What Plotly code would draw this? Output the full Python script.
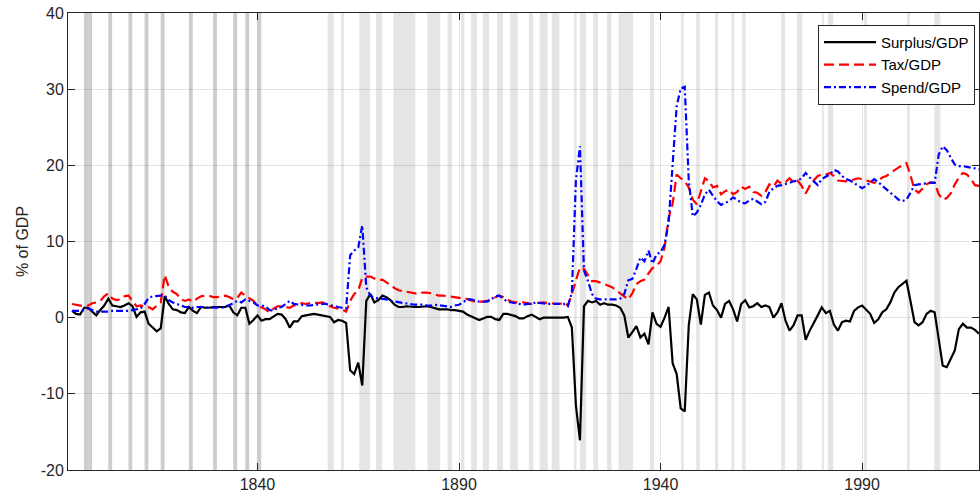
import plotly.graph_objects as go

years = list(range(1794, 2020))

surplus = [
    0.9, 0.5, 0.4, 1.3, 1.3, 0.8, 0.3, 1.0, 1.6, 2.5,
    1.6, 1.5, 1.4, 1.6, 1.9, 1.5, 0.1, 0.7, 0.8, -0.8,
    -1.3, -1.8, -1.4, 2.8, 1.8, 1.1, 1.0, 0.7, 0.6, 1.4,
    0.9, 0.6, 1.4, 1.3, 1.3, 1.4, 1.4, 1.4, 1.4, 1.6,
    0.7, 0.3, 1.3, 1.3, -0.8, -0.3, 0.3, -0.4, -0.2, -0.2,
    0.2, 0.5, 0.4, -0.2, -1.3, -0.5, -0.5, 0.2, 0.3, 0.4,
    0.5, 0.4, 0.3, 0.2, 0.1, -0.6, -0.3, -0.4, -0.7, -6.9,
    -7.4, -5.9, -8.9, 2.2, 3.1, 2.0, 2.3, 2.9, 2.7, 2.3,
    1.7, 1.4, 1.4, 1.5, 1.4, 1.4, 1.4, 1.5, 1.5, 1.4,
    1.3, 1.1, 1.1, 1.1, 1.0, 1.0, 0.9, 0.8, 0.4, 0.2,
    -0.1, -0.3, -0.1, 0.1, 0.1, -0.2, -0.3, 0.5, 0.5, 0.4,
    0.2, -0.1, -0.1, 0.2, 0.4, 0.1, -0.2, 0.0, 0.0, 0.0,
    0.0, 0.0, 0.0, 0.1, -1.3, -11.5, -16.1, 1.5, 2.2, 2.0,
    2.2, 1.7, 1.9, 1.7, 1.7, 1.6, 1.3, 0.3, -2.6, -1.9,
    -1.1, -2.6, -2.1, -3.5, 0.7, -0.8, -1.2, 0.0, 1.4, -6.0,
    -7.4, -11.9, -12.3, -1.0, 3.1, 2.4, -0.9, 3.0, 3.3, 1.6,
    1.0, 0.0, 1.8, 2.2, 1.1, -0.5, 1.8, 2.3, 1.35, 1.5,
    1.9, 1.4, 1.6, 1.4, 0.0, 0.7, 1.9, -0.4, -1.7, -1.0,
    0.3, 0.3, -2.9, -1.7, -0.6, 0.3, 1.35, 0.6, 0.9, -0.9,
    -1.7, -0.6, -0.4, -0.5, 0.9, 1.35, 1.6, 1.1, 0.5, -0.7,
    -0.2, 0.7, 1.1, 2.0, 3.3, 4.0, 4.4, 4.85, 2.2, -0.6,
    -1.0, -0.6, 0.5, 0.9, 0.7, -2.6, -6.3, -6.5, -5.4, -4.3,
    -1.5, -0.8, -1.3, -1.3, -1.6, -2.1,
]

tax = [
    1.8, 1.7, 1.6, 1.5, 1.6, 1.9, 2.0, 2.2, 2.8, 3.2,
    2.5, 2.3, 2.4, 2.8, 2.9, 2.2, 1.5, 1.6, 1.5, 1.4,
    1.1, 1.5, 2.0, 5.6, 4.0, 3.4, 3.1, 2.4, 2.2, 2.4,
    2.1, 2.5, 2.8, 2.9, 2.9, 2.7, 2.7, 2.8, 2.9, 2.7,
    2.4, 2.6, 3.3, 2.9, 2.6, 2.2, 1.6, 1.4, 1.1, 0.7,
    1.2, 1.5, 1.5, 1.4, 1.3, 1.6, 1.7, 1.9, 1.8, 1.9,
    2.0, 1.9, 2.0, 1.9, 1.5, 1.3, 1.2, 1.1, 0.8, 2.2,
    3.1, 3.6, 5.2, 5.4, 5.4, 5.1, 4.9, 5.0, 4.6, 4.2,
    3.9, 3.6, 3.5, 3.3, 3.2, 3.1, 3.1, 3.3, 3.3, 3.2,
    3.0, 2.9, 2.9, 2.8, 2.75, 2.7, 2.6, 2.6, 2.4, 2.2,
    2.1, 2.1, 2.1, 2.2, 2.4, 2.7, 2.9, 2.7, 2.4, 2.1,
    2.0, 2.0, 2.0, 1.9, 1.8, 1.9, 2.0, 2.0, 1.9, 1.9,
    1.8, 1.8, 2.0, 1.6, 3.1, 5.0, 6.6, 6.4, 5.6, 4.8,
    4.8, 4.6, 4.3, 4.1, 4.0, 3.6, 3.2, 2.8, 2.4, 3.2,
    4.4, 4.8, 5.0, 5.8, 6.5, 6.8, 7.4, 9.2, 13.1, 15.0,
    18.8, 18.3, 17.9, 17.1, 15.5, 14.9, 16.6, 18.3, 17.9, 17.1,
    17.3, 16.2, 16.6, 16.8, 16.2, 16.5, 17.2, 16.9, 17.2, 16.5,
    16.4, 16.0, 16.5, 17.5, 17.2, 18.0, 17.6, 17.8, 18.3, 17.8,
    18.0, 17.3, 16.3, 17.3, 18.0, 18.6, 18.8, 18.8, 19.0, 18.6,
    18.0, 17.9, 17.9, 18.0, 18.2, 18.3, 18.2, 18.0, 17.8, 17.7,
    18.0, 18.4, 18.6, 19.0, 19.4, 19.7, 20.0, 20.3, 18.7, 16.8,
    16.4, 16.9, 17.5, 17.8, 17.7, 16.2, 15.5, 15.7, 16.3, 17.5,
    18.4, 19.0, 18.8, 18.2, 17.4, 17.3,
]

spend = [
    0.9, 0.9, 0.9, 1.0, 1.2, 1.0, 0.8, 0.8, 0.8, 0.8,
    0.9, 0.9, 0.9, 0.9, 0.9, 1.0, 1.1, 1.2, 1.8, 2.6,
    2.8, 2.9, 2.9, 2.9, 2.3, 2.0, 1.8, 1.6, 1.4, 1.4,
    1.3, 1.4, 1.4, 1.4, 1.3, 1.3, 1.3, 1.3, 1.4, 1.6,
    1.9, 2.2, 2.0, 2.4, 2.2, 2.0, 1.6, 1.6, 1.5, 1.0,
    0.9, 1.3, 1.4, 1.8, 2.2, 1.8, 1.7, 1.6, 1.6, 1.6,
    1.7, 1.7, 1.8, 1.8, 1.7, 1.5, 1.4, 1.3, 1.2, 8.2,
    8.8, 9.2, 12.1, 4.0, 2.9, 2.6, 2.5, 2.5, 2.4, 2.2,
    2.1, 2.0, 1.9, 1.8, 1.7, 1.7, 1.7, 1.7, 1.6, 1.6,
    1.7, 1.6, 1.6, 1.5, 1.4, 1.6, 1.7, 2.0, 2.4, 2.4,
    2.2, 2.1, 2.1, 2.1, 2.4, 2.8, 2.9, 2.5, 2.1, 2.0,
    1.9, 1.8, 1.7, 1.8, 1.8, 2.0, 1.9, 1.9, 1.8, 1.8,
    1.8, 1.8, 1.8, 1.5, 3.3, 18.0, 22.5, 6.2, 4.8, 3.1,
    2.5, 2.4, 2.4, 2.4, 2.4, 2.4, 2.5, 3.1, 4.9, 5.1,
    6.4, 7.9, 7.4, 8.8, 7.1, 8.3, 8.6, 9.6, 12.5, 19.5,
    27.8, 30.1, 30.3, 18.0, 13.3, 13.8, 14.8, 16.2, 16.8, 16.0,
    15.3, 14.8, 15.0, 15.3, 15.8, 15.4, 15.1, 15.0, 15.4, 15.6,
    15.3, 14.9, 15.2, 16.5, 17.0, 17.3, 17.4, 17.5, 17.7, 17.9,
    18.0, 18.3, 19.0, 18.4, 17.9, 17.4, 18.2, 18.5, 18.8, 19.4,
    19.2, 18.6, 18.2, 18.0, 17.7, 17.4, 17.0, 17.3, 17.7, 18.2,
    17.8, 17.3, 16.9, 16.4, 16.0, 15.5, 15.3, 15.5, 16.4, 17.4,
    17.5, 17.6, 17.6, 17.7, 17.7, 21.4, 22.5, 22.0, 21.0, 20.1,
    19.9, 19.9, 19.8, 19.7, 19.6, 19.5,
]

# Early annual recession years (darker bands)
annual_recession_years = [1797, 1798, 1803, 1808, 1812, 1816, 1823, 1829, 1834, 1837, 1840]

# NBER business-cycle peaks and troughs (year, month)
nber_peaks = [
    (1857, 6), (1860, 10), (1865, 4), (1869, 6), (1873, 10), (1882, 3), (1887, 3),
    (1890, 7), (1893, 1), (1895, 12), (1899, 6), (1902, 9), (1907, 5), (1910, 1),
    (1913, 1), (1918, 8), (1920, 1), (1923, 5), (1926, 10), (1929, 8), (1937, 5),
    (1945, 2), (1948, 11), (1953, 7), (1957, 8), (1960, 4), (1969, 12), (1973, 11),
    (1980, 1), (1981, 7), (1990, 7), (2001, 3), (2007, 12),
]
nber_troughs = [
    (1858, 12), (1861, 6), (1867, 12), (1870, 12), (1879, 3), (1885, 5), (1888, 4),
    (1891, 5), (1894, 6), (1897, 6), (1900, 12), (1904, 8), (1908, 6), (1912, 1),
    (1914, 12), (1919, 3), (1921, 7), (1924, 7), (1927, 11), (1933, 3), (1938, 6),
    (1945, 10), (1949, 10), (1954, 5), (1958, 4), (1961, 2), (1970, 11), (1975, 3),
    (1980, 7), (1982, 11), (1991, 3), (2001, 11), (2009, 6),
]

x_ticks = [1840, 1890, 1940, 1990]
y_ticks = [-20, -10, 0, 10, 20, 30, 40]

FONT = "Arial, 'Liberation Sans', Helvetica, sans-serif"
AX = "#262626"

shapes = []
for yr in annual_recession_years:
    shapes.append(dict(type="rect", xref="x", yref="paper", x0=yr, x1=yr + 0.95, y0=0, y1=1,
                       fillcolor="#cdcdcd", line=dict(width=0), layer="below"))
for (py, pm), (ty, tm) in zip(nber_peaks, nber_troughs):
    shapes.append(dict(type="rect", xref="x", yref="paper",
                       x0=py + (pm - 1) / 12, x1=ty + (tm - 1) / 12, y0=0, y1=1,
                       fillcolor="#e5e5e5", line=dict(width=0), layer="below"))

fig = go.Figure()
fig.add_trace(go.Scatter(x=years, y=surplus, mode="lines", name="Surplus/GDP",
                         line=dict(color="black", width=2.2)))
fig.add_trace(go.Scatter(x=years, y=tax, mode="lines", name="Tax/GDP",
                         line=dict(color="#ff0000", width=2.2, dash="10px,5px")))
fig.add_trace(go.Scatter(x=years, y=spend, mode="lines", name="Spend/GDP",
                         line=dict(color="#0000ff", width=2.2, dash="7px,3px,2px,3px")))

fig.update_layout(
    width=980, height=499,
    margin=dict(l=68, r=1, t=13, b=29),
    paper_bgcolor="white", plot_bgcolor="white",
    font=dict(family=FONT, size=16, color=AX),
    shapes=shapes,
    showlegend=True,
    legend=dict(x=0.9956, y=0.974, xanchor="right", yanchor="top",
                bgcolor="white", bordercolor=AX, borderwidth=1,
                font=dict(family=FONT, size=15, color="black"),
                tracegroupgap=0, itemwidth=52),
)
fig.update_xaxes(range=[1793, 2019], tickvals=x_ticks, ticktext=[str(t) for t in x_ticks],
                 ticks="inside", ticklen=7, tickcolor=AX, showline=True, linecolor=AX,
                 linewidth=1, mirror="ticks", showgrid=True, automargin=False,
                 gridcolor="rgba(38,38,38,0.13)", zeroline=False)
fig.update_yaxes(range=[-20, 40], tickvals=y_ticks, ticktext=[str(t) for t in y_ticks],
                 ticks="inside", ticklen=7, tickcolor=AX, showline=True, linecolor=AX,
                 linewidth=1, mirror="ticks", showgrid=True, automargin=False,
                 gridcolor="rgba(38,38,38,0.13)", zeroline=False,
                 title=dict(text="% of GDP", standoff=8, font=dict(size=16)))

fig.write_html("out.html", config={"displayModeBar": False},
               post_script="document.body.style.margin='0';")
